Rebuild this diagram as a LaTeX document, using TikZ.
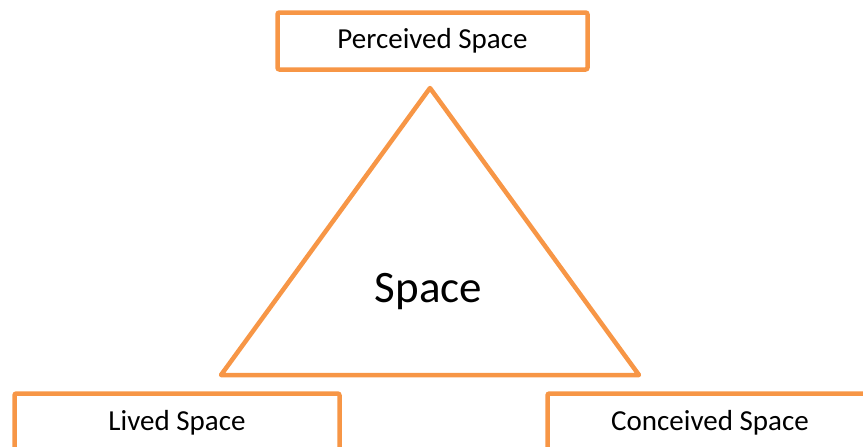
\documentclass[tikz,border=0pt]{standalone}
\usepackage{fontspec}
\setmainfont{Carlito}
\usepackage{xcolor}
\usepackage{tikz}
\usetikzlibrary{positioning}

\definecolor{spaceorange}{HTML}{F79646}

\begin{document}
\begin{tikzpicture}[
    x=1pt, y=-1pt,
    every node/.style={font=\fontsize{29}{34}\selectfont},
    spacebox/.style={draw=spaceorange, line width=4.5pt, rounded corners=2pt, fill=white,
        minimum width=325pt, minimum height=58pt, inner sep=0pt}
]
\useasboundingbox (0,0) rectangle (863,447);
% triangle
\coordinate (apex) at (430,88);
\coordinate (leftcorner) at (221,375);
\coordinate (rightcorner) at (639,375);
\draw[spaceorange, line width=4.5pt, line join=round] (apex) -- (leftcorner) -- (rightcorner) -- cycle;
\node[anchor=base, font=\fontsize{45}{54}\selectfont] (space) at (428.5,302) {Space};
% corner boxes
\node[spacebox, minimum width=310pt, minimum height=57pt] (perceived) at (432.5,41) {Perceived Space};
\node[spacebox] (lived) at (177,422.5) {Lived Space};
\node[spacebox] (conceived) at (710,422.5) {Conceived Space};
\end{tikzpicture}
\end{document}
